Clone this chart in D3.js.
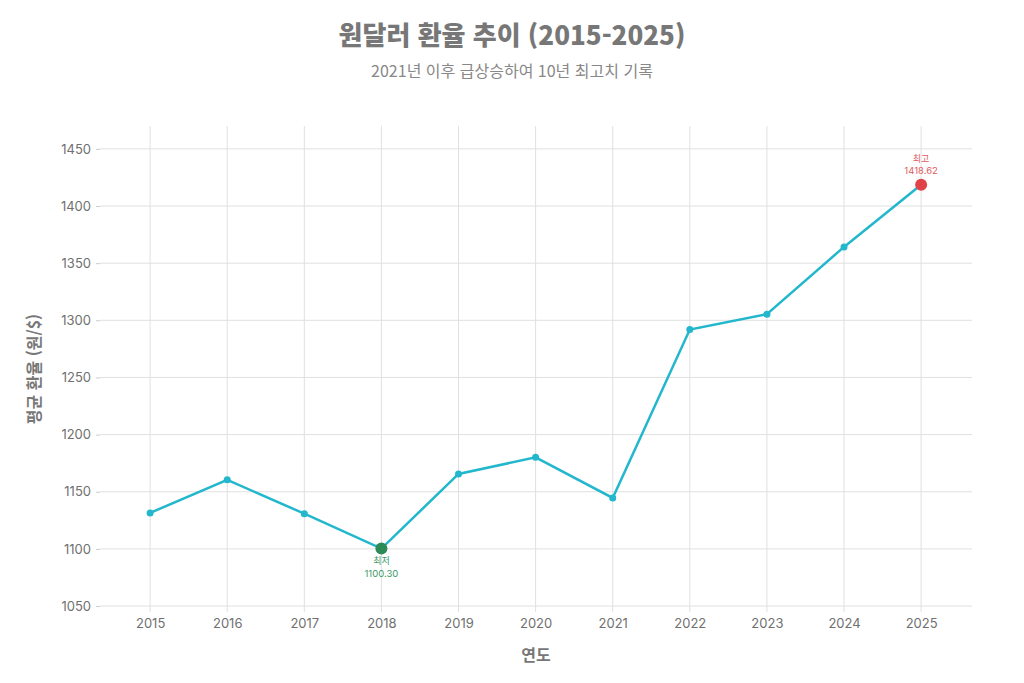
<!DOCTYPE html>
<html lang="ko">
<head>
<meta charset="UTF-8" />
<title>원달러 환율 추이</title>
<script src="https://cdn.jsdelivr.net/npm/d3@7/dist/d3.min.js"></script>
<style>
  body { margin: 0; background: #fff; }
  text { font-family: Inter, "Noto Sans CJK KR", sans-serif; }
  .ko { font-family: "Noto Sans CJK KR", "Noto Sans", sans-serif; }
</style>
</head>
<body>
<script>
  // data
  var years = [2015, 2016, 2017, 2018, 2019, 2020, 2021, 2022, 2023, 2024, 2025];
  var rates = [1131.5, 1160.4, 1130.8, 1100.30, 1165.6, 1180.1, 1144.6, 1291.9, 1305.4, 1364.2, 1418.62];
  var yTicks = [1050, 1100, 1150, 1200, 1250, 1300, 1350, 1400, 1450];

  var w = 1024, h = 683;
  var margin = { top: 126, right: 52, bottom: 71, left: 100 };

  var svg = d3.select("body").append("svg")
    .attr("width", w)
    .attr("height", h);

  var x = d3.scaleLinear()
    .domain([2014.35, 2025.66])
    .range([margin.left, w - margin.right]);

  var y = d3.scaleLinear()
    .domain([1044.8, 1470])
    .range([h - margin.bottom, margin.top]);

  // grid
  svg.append("g")
    .selectAll("line")
    .data(years)
    .enter().append("line")
    .attr("x1", function(d) { return x(d); })
    .attr("x2", function(d) { return x(d); })
    .attr("y1", margin.top)
    .attr("y2", h - margin.bottom)
    .attr("stroke", "#e0e0e0");

  svg.append("g")
    .selectAll("line")
    .data(yTicks)
    .enter().append("line")
    .attr("x1", margin.left)
    .attr("x2", w - margin.right)
    .attr("y1", function(d) { return y(d); })
    .attr("y2", function(d) { return y(d); })
    .attr("stroke", "#e0e0e0");

  // axes
  var yAxis = svg.append("g")
    .attr("transform", "translate(" + margin.left + ",0)")
    .call(d3.axisLeft(y).tickValues(yTicks).tickFormat(d3.format("d")).tickSize(4).tickPadding(5));
  var xAxis = svg.append("g")
    .attr("transform", "translate(0," + (h - margin.bottom) + ")")
    .call(d3.axisBottom(x).tickValues(years).tickFormat(d3.format("d")).tickSize(0).tickPadding(7));

  [yAxis, xAxis].forEach(function(a) {
    a.select(".domain").remove();
    a.selectAll("line").attr("stroke", "#ccc");
    a.selectAll("text").attr("fill", "#707070").style("font-size", "13px");
  });

  // line
  var line = d3.line()
    .x(function(d, i) { return x(years[i]); })
    .y(function(d) { return y(d); });

  svg.append("path")
    .datum(rates)
    .attr("d", line)
    .attr("fill", "none")
    .attr("stroke", "#22b7cc")
    .attr("stroke-width", 2.5);

  svg.append("g")
    .selectAll("circle")
    .data(rates)
    .enter().append("circle")
    .attr("cx", function(d, i) { return x(years[i]); })
    .attr("cy", function(d) { return y(d); })
    .attr("r", 3.5)
    .attr("fill", "#22b7cc");

  // min / max
  var maxI = d3.maxIndex(rates), minI = d3.minIndex(rates);

  svg.append("circle")
    .attr("cx", x(years[maxI])).attr("cy", y(rates[maxI]))
    .attr("r", 6).attr("fill", "#e04347");
  svg.append("text").attr("class", "ko")
    .attr("x", x(years[maxI])).attr("y", y(rates[maxI]) - 23)
    .attr("text-anchor", "middle").attr("fill", "#e05a5e")
    .style("font-size", "9px").text("최고");
  svg.append("text")
    .attr("x", x(years[maxI])).attr("y", y(rates[maxI]) - 11)
    .attr("text-anchor", "middle").attr("fill", "#e05a5e")
    .style("font-size", "9.5px").text(d3.format(".2f")(rates[maxI]));

  svg.append("circle")
    .attr("cx", x(years[minI])).attr("cy", y(rates[minI]))
    .attr("r", 6).attr("fill", "#2e8b57");
  svg.append("text").attr("class", "ko")
    .attr("x", x(years[minI])).attr("y", y(rates[minI]) + 15)
    .attr("text-anchor", "middle").attr("fill", "#3c9a68")
    .style("font-size", "9px").text("최저");
  svg.append("text")
    .attr("x", x(years[minI])).attr("y", y(rates[minI]) + 28)
    .attr("text-anchor", "middle").attr("fill", "#3c9a68")
    .style("font-size", "9.5px").text(d3.format(".2f")(rates[minI]));

  // titles
  svg.append("text").attr("class", "ko")
    .attr("x", w / 2).attr("y", 45)
    .attr("text-anchor", "middle").attr("fill", "#777")
    .style("font-size", "26px").style("font-weight", "900")
    .text("원달러 환율 추이 (2015-2025)");

  svg.append("text").attr("class", "ko")
    .attr("x", w / 2).attr("y", 77)
    .attr("text-anchor", "middle").attr("fill", "#888")
    .style("font-size", "16px")
    .text("2021년 이후 급상승하여 10년 최고치 기록");

  svg.append("text").attr("class", "ko")
    .attr("x", (margin.left + w - margin.right) / 2).attr("y", 661)
    .attr("text-anchor", "middle").attr("fill", "#777")
    .style("font-size", "16px").style("font-weight", "bold")
    .text("연도");

  svg.append("text").attr("class", "ko")
    .attr("transform", "translate(40," + ((margin.top + h - margin.bottom) / 2) + ") rotate(-90)")
    .attr("text-anchor", "middle").attr("fill", "#777")
    .style("font-size", "16px").style("font-weight", "bold")
    .text("평균 환율 (원/$)");
</script>
</body>
</html>
